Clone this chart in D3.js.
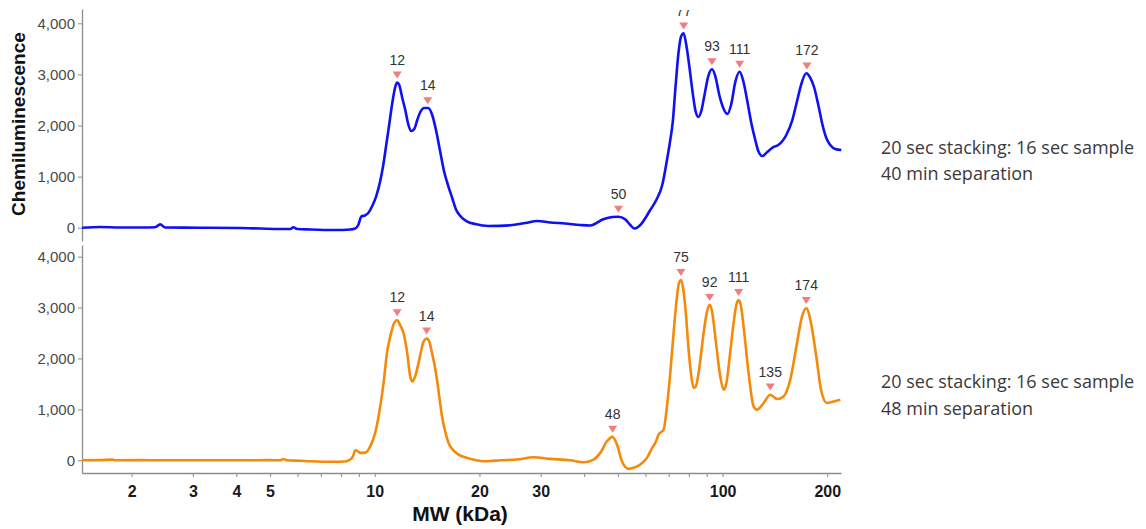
<!DOCTYPE html>
<html><head><meta charset="utf-8">
<script src="https://cdn.jsdelivr.net/npm/d3@7/dist/d3.min.js"></script>
<style>body{margin:0;background:#fff;overflow:hidden}</style>
</head><body>
<svg id="chart" width="1146" height="529"></svg>
<script>
// ---------- DATA ----------
const topMW = [1.44,1.625,1.855,2.118,2.338,2.416,2.498,3.15,4.106,4.687,5.35,5.715,5.832,5.988,6.524,7.696,8.503,8.789,8.966,9.146,9.391,9.579,9.835,10.10,10.37,10.58,10.79,11.01,11.23,11.45,11.61,11.76,12.00,12.24,12.48,12.73,12.99,13.25,13.52,13.88,14.25,14.63,15.02,15.43,15.84,16.27,16.70,17.15,17.73,18.45,19.45,21.20,24.52,27.09,29.33,31.96,35.29,38.98,41.65,45.39,48.18,50.13,52.51,54.28,55.74,58.00,61.95,64.47,67.08,69.20,70.73,71.91,73.11,74.73,76.07,77.25,78.64,80.22,81.84,83.48,85.15,86.86,88.60,90.98,93.23,95.28,97.84,100.46,103.16,105.93,108.77,111.92,114.69,117.77,120.93,124.17,126.66,130.06,134.44,139.90,144.59,152.46,158.66,163.99,168.39,174.06,178.74,183.53,188.45,193.50,198.69,204.0,210.9,219.5];
const topValue = [0,14,4,4,8,66,4,0,-6,-16,-25,-25,8,-25,-35,-45,-35,-16,53,219,243,288,425,620,914,1227,1618,2029,2440,2753,2841,2793,2538,2303,2029,1892,1931,2107,2264,2342,2342,2205,1892,1481,1090,816,581,346,209,121,72,33,47,92,131,102,82,53,43,164,209,215,164,53,-16,53,347,542,836,1325,1716,2069,2695,3438,3752,3804,3575,3164,2695,2303,2166,2284,2577,2968,3100,2968,2597,2342,2225,2421,2851,3053,2871,2479,2049,1716,1501,1403,1481,1579,1618,1814,2107,2499,2812,3022,2930,2734,2401,2029,1755,1618,1540,1520];

const bottomMW = [1.44,1.625,1.76,1.80,2.12,2.5,3.15,4.1,5.0,5.35,5.457,5.6,6.107,6.524,7.696,8.227,8.503,8.673,8.789,8.966,9.085,9.391,9.707,10.03,10.37,10.60,10.84,11.08,11.30,11.59,11.84,12.10,12.40,12.65,12.82,13.07,13.36,13.60,13.81,14.13,14.35,14.61,14.83,15.10,15.33,15.61,15.95,16.30,16.70,17.41,18.41,19.45,20.55,21.48,22.96,25.63,28.61,31.96,36.48,39.83,42.57,44.5,46.52,48.27,49.71,51.36,53.66,55.46,58.0,60.61,62.80,64.06,65.46,67.67,69.2,70.73,72.29,73.94,74.92,75.92,76.93,78.12,79.87,81.15,82.54,83.75,85.31,88.19,90.08,91.75,93.42,95.28,98.49,100.67,102.47,104.06,107.56,109.49,111.17,112.81,114.93,118.79,122.78,125.58,131.22,137.17,143.36,149.74,156.5,163.64,169.15,174.06,179.6,185.96,191.84,199.6,208.5,218.0];
const bottomValue = [0,3,12,0,2,0,0,0,2,0,25,0,-10,-20,-30,-25,14,90,196,170,145,150,274,537,1058,1517,2105,2430,2650,2750,2650,2497,2100,1640,1548,1650,1909,2150,2332,2390,2330,2105,1900,1582,1250,862,560,341,220,112,47,5,-20,-15,0,14,59,27,0,-39,14,145,373,459,308,-20,-169,-149,-84,47,250,341,504,602,1058,1713,2497,3214,3480,3542,3400,3018,2170,1700,1419,1450,1713,2497,2900,3052,2900,2430,1646,1386,1500,1842,2693,3050,3150,3050,2626,1713,1058,994,1125,1288,1203,1254,1582,2301,2822,2987,2693,2038,1386,1125,1156,1190];

const topPeakLabels = ["12","14","50","77","93","111","172"];
const topPeakMW = [11.6,14.2,50.2,77.3,93.2,112.0,174.8];
const topPeakValue = [2840,2340,215,3800,3100,3050,3020];

const bottomPeakLabels = ["12","14","48","75","92","111","135","174"];
const bottomPeakMW = [11.6,14.1,48.3,75.9,91.8,111.2,137.1,174.0];
const bottomPeakValue = [2750,2390,460,3540,3050,3150,1290,2990];

const yTickValues = [0,1000,2000,3000,4000];
const xTickValues = [2,3,4,5,6,7,8,9,10,20,30,40,50,60,70,80,90,100,200];
const xTickLabels = [2,3,4,5,10,20,30,100,200];

const topLegend = ["20 sec stacking: 16 sec sample","40 min separation"];
const bottomLegend = ["20 sec stacking: 16 sec sample","48 min separation"];
const xTitle = "MW (kDa)";
const yTitle = "Chemiluminescence";

// ---------- DRAW ----------
const svg = d3.select("#chart");
const x = d3.scaleLog().domain([1.44, 219]).range([82, 841]);
const yTop = d3.scaleLinear().domain([-260, 4280]).range([241, 9]);
const yBot = d3.scaleLinear().domain([-250, 4229]).range([473, 245]);

const defs = svg.append("defs");
defs.append("clipPath").attr("id","clipTop").append("rect").attr("x",82).attr("y",10).attr("width",780).attr("height",231);
defs.append("clipPath").attr("id","clipBot").append("rect").attr("x",82).attr("y",240).attr("width",780).attr("height",234);

function styleAxis(g){
  g.select(".domain").attr("stroke","#8c8c8c").attr("stroke-width",1.3);
  g.selectAll(".tick line").attr("stroke","#8c8c8c").attr("stroke-width",1);
}

function panel(y, mw, val, color, pMW, pVal, pLab, clipId){
  const ya = svg.append("g").attr("transform","translate(82,0)")
    .call(d3.axisLeft(y).tickValues(yTickValues).tickSize(4).tickSizeOuter(0).tickPadding(3).tickFormat(d3.format(",")));
  styleAxis(ya);
  ya.selectAll(".tick text").attr("font-family","Liberation Sans, Arial, sans-serif").attr("font-size",15).attr("fill","#4a4a4a");

  const line = d3.line().x((d,i)=>x(mw[i])).y((d,i)=>y(val[i])).curve(d3.curveMonotoneX);
  svg.append("path").datum(val).attr("d", line)
    .attr("fill","none").attr("stroke",color).attr("stroke-width",2.6).attr("stroke-linejoin","round")
    .attr("clip-path",`url(#${clipId})`);

  const pg = svg.append("g").attr("clip-path",`url(#${clipId})`);
  pMW.forEach((m,i)=>{
    const px = x(m), py = y(pVal[i]);
    pg.append("path").attr("d",`M${px-4.5},${py-11}L${px+4.5},${py-11}L${px},${py-4}Z`).attr("fill","#f47c7c");
    pg.append("text").attr("x",px).attr("y",py-18).attr("text-anchor","middle")
      .attr("font-family","Liberation Sans, Arial, sans-serif").attr("font-size",14).attr("fill","#333")
      .text(pLab[i]);
  });
}

panel(yTop, topMW, topValue, "#1010f5", topPeakMW, topPeakValue, topPeakLabels, "clipTop");
panel(yBot, bottomMW, bottomValue, "#f5890a", bottomPeakMW, bottomPeakValue, bottomPeakLabels, "clipBot");

const xa = svg.append("g").attr("transform","translate(0,473)")
  .call(d3.axisBottom(x).tickValues(xTickValues).tickSize(4).tickSizeOuter(0).tickPadding(9)
    .tickFormat(d => xTickLabels.includes(d) ? String(d) : ""));
styleAxis(xa);
xa.selectAll(".tick text").attr("font-family","Liberation Sans, Arial, sans-serif").attr("font-size",16)
  .attr("font-weight","bold").attr("fill","#1a1a1a");

svg.append("text").attr("x",460).attr("y",521).attr("text-anchor","middle")
  .attr("font-family","Liberation Sans, Arial, sans-serif").attr("font-size",21).attr("font-weight","bold")
  .attr("fill","#111").text(xTitle);
svg.append("text").attr("transform","translate(25,124) rotate(-90)").attr("text-anchor","middle")
  .attr("font-family","Liberation Sans, Arial, sans-serif").attr("font-size",19).attr("font-weight","bold")
  .attr("fill","#111").text(yTitle);

function legend(lines, y0, y1){
  [y0,y1].forEach((yy,i)=>{
    svg.append("text").attr("x",881).attr("y",yy)
      .attr("font-family","Open Sans, sans-serif").attr("font-size",18).attr("fill","#3a3a3a")
      .text(lines[i]);
  });
}
legend(topLegend, 154, 180);
legend(bottomLegend, 388, 415);
</script>
</body></html>
